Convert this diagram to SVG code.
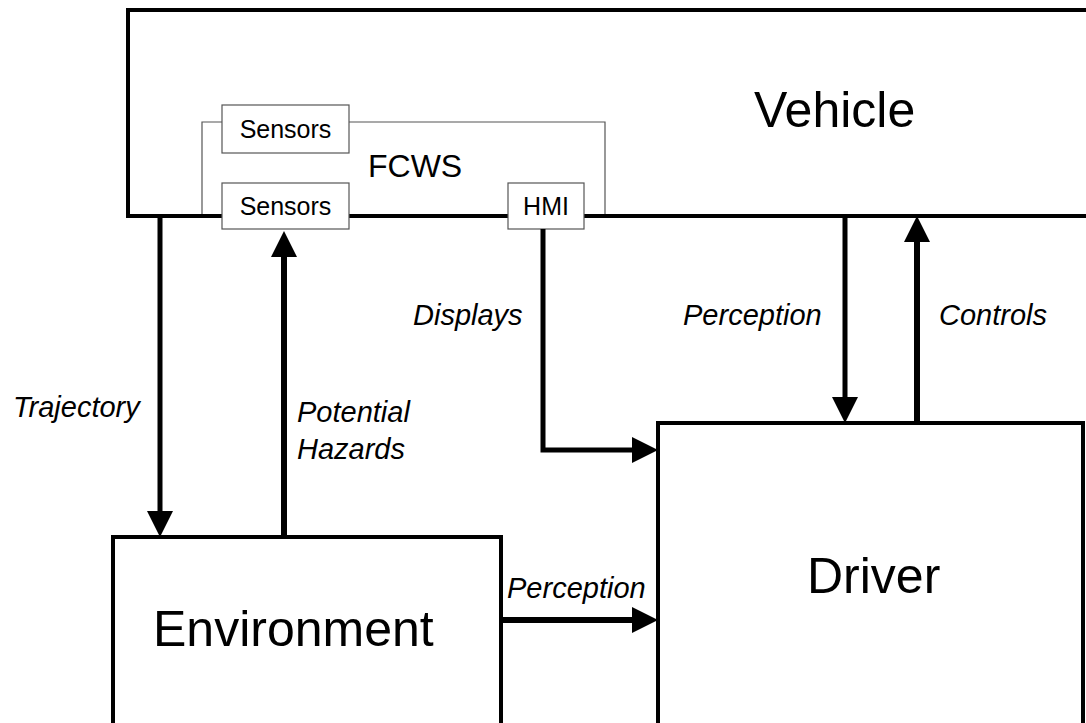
<svg xmlns="http://www.w3.org/2000/svg" width="1086" height="723" viewBox="0 0 1086 723">
<style>
.big{fill:none;stroke:#000;stroke-width:4}
.thin{fill:#fff;stroke:#555;stroke-width:1.2}
.frame{fill:none;stroke:#555;stroke-width:1.2}
.t{font-family:"Liberation Sans",Arial,sans-serif;fill:#000}
.lbl{font-family:"Liberation Sans",Arial,sans-serif;font-style:italic;font-size:29px;fill:#000}
.conn{fill:none;stroke:#000;stroke-linejoin:miter}
</style>
<defs>
<marker id="ah" markerUnits="userSpaceOnUse" markerWidth="27" markerHeight="28" viewBox="0 0 27 28" refX="0" refY="14" orient="auto">
<path d="M0,1 L26,14 L0,27 z" fill="#000"/>
</marker>
</defs>
<rect width="1086" height="723" fill="#fff"/>
<g id="vehicle">
<rect class="big" x="128" y="10" width="1000" height="206"/>
<text class="t" x="754" y="127" font-size="50">Vehicle</text>
</g>
<g id="fcws">
<path class="frame" d="M202,214 V122 H605 V214"/>
<text class="t" x="368" y="177" font-size="32">FCWS</text>
</g>
<g id="sensors-top">
<rect class="thin" x="222" y="105" width="127" height="48"/>
<text class="t" x="285.5" y="138" font-size="25" text-anchor="middle">Sensors</text>
</g>
<g id="sensors-bottom">
<rect class="thin" x="222" y="183" width="127" height="46"/>
<text class="t" x="285.5" y="215" font-size="25" text-anchor="middle">Sensors</text>
</g>
<g id="hmi">
<rect class="thin" x="508" y="183" width="76" height="46"/>
<text class="t" x="546" y="215" font-size="25" text-anchor="middle">HMI</text>
</g>
<g id="environment">
<rect class="big" x="113" y="537" width="388" height="200"/>
<text class="t" x="153" y="646" font-size="50">Environment</text>
</g>
<g id="driver">
<rect class="big" x="658" y="423" width="425" height="320"/>
<text class="t" x="807" y="593" font-size="50">Driver</text>
</g>
<g id="connectors">
<path class="conn" stroke-width="5" d="M160,218 V511" marker-end="url(#ah)"/>
<path class="conn" stroke-width="6" d="M284,535 V257" marker-end="url(#ah)"/>
<path class="conn" stroke-width="5" d="M845,218 V397" marker-end="url(#ah)"/>
<path class="conn" stroke-width="6" d="M917,421 V242" marker-end="url(#ah)"/>
<path class="conn" stroke-width="5" d="M543,229 V450 H632" marker-end="url(#ah)"/>
<path class="conn" stroke-width="6" d="M503,620 H632" marker-end="url(#ah)"/>
<text class="lbl" x="13" y="417">Trajectory</text>
<text class="lbl" x="297" y="422">Potential</text>
<text class="lbl" x="297" y="459">Hazards</text>
<text class="lbl" x="413" y="325">Displays</text>
<text class="lbl" x="683" y="325">Perception</text>
<text class="lbl" x="939" y="325">Controls</text>
<text class="lbl" x="507" y="598">Perception</text>
</g>
</svg>
